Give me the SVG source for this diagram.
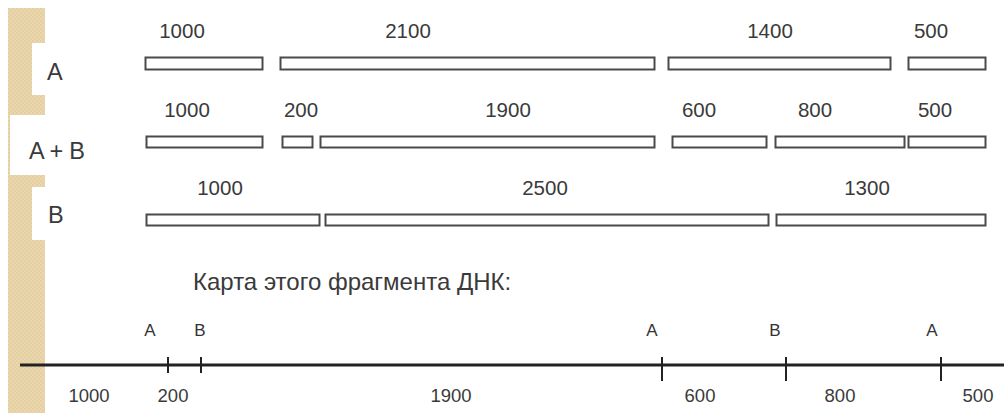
<svg xmlns="http://www.w3.org/2000/svg" width="1004" height="413" viewBox="0 0 1004 413">
<defs>
<pattern id="tex" width="4" height="4" patternUnits="userSpaceOnUse">
<rect width="4" height="4" fill="#ebd7ae"/>
<rect x="0" y="0" width="2" height="2" fill="#e4cfa3"/>
<rect x="2" y="2" width="2" height="2" fill="#e4cfa3"/>
</pattern>
</defs>
<style>
.seg{fill:#fff;stroke:#4a4a4a;stroke-width:2;}
.lbl{font-family:"Liberation Sans",Arial,sans-serif;font-size:20.5px;fill:#3a3a3a;text-anchor:middle;}
.row{font-family:"Liberation Sans",Arial,sans-serif;font-size:23.5px;fill:#3a3a3a;}
.mk{font-family:"Liberation Sans",Arial,sans-serif;font-size:17px;fill:#333;text-anchor:middle;}
.num{font-family:"Liberation Sans",Arial,sans-serif;font-size:18.5px;fill:#3a3a3a;text-anchor:middle;}
.tick{stroke:#222;stroke-width:2;}
</style>
<rect width="1004" height="413" fill="#fff"/>
<g id="strip">
<rect x="8" y="8" width="37" height="405" fill="url(#tex)"/>
<rect x="32" y="43" width="14" height="52" fill="#fff"/>
<rect x="10" y="115" width="36" height="60" fill="#fff"/>
<rect x="32" y="187" width="14" height="53" fill="#fff"/>
</g>
<g id="row-A">
<text class="row" x="47" y="80">A</text>
<rect class="seg" x="145.5" y="57.5" width="117" height="12"/>
<rect class="seg" x="280.5" y="57.5" width="374" height="12"/>
<rect class="seg" x="668.5" y="57.5" width="222" height="12"/>
<rect class="seg" x="908.5" y="57.5" width="77" height="12"/>
<text class="lbl" x="182" y="38">1000</text>
<text class="lbl" x="408" y="38">2100</text>
<text class="lbl" x="770" y="38">1400</text>
<text class="lbl" x="931" y="38">500</text>
</g>
<g id="row-AB">
<text class="row" x="29" y="159" textLength="56">A + B</text>
<rect class="seg" x="146.5" y="136.5" width="116" height="11"/>
<rect class="seg" x="282.5" y="136.5" width="30" height="11"/>
<rect class="seg" x="320.5" y="136.5" width="334" height="11"/>
<rect class="seg" x="672.5" y="136.5" width="94" height="11"/>
<rect class="seg" x="775.5" y="136.5" width="129" height="11"/>
<rect class="seg" x="908.5" y="136.5" width="77" height="11"/>
<text class="lbl" x="187" y="117">1000</text>
<text class="lbl" x="301" y="117">200</text>
<text class="lbl" x="508" y="117">1900</text>
<text class="lbl" x="699" y="117">600</text>
<text class="lbl" x="815" y="117">800</text>
<text class="lbl" x="935" y="117">500</text>
</g>
<g id="row-B">
<text class="row" x="48" y="223">B</text>
<rect class="seg" x="146.5" y="214.5" width="173" height="11"/>
<rect class="seg" x="325.5" y="214.5" width="443" height="11"/>
<rect class="seg" x="776.5" y="214.5" width="209" height="11"/>
<text class="lbl" x="220" y="195">1000</text>
<text class="lbl" x="545" y="195">2500</text>
<text class="lbl" x="867" y="195">1300</text>
</g>
<g id="map">
<text class="row" x="193" y="290" font-size="24" style="font-size:24px">Карта этого фрагмента ДНК:</text>
<text class="mk" x="150" y="336">A</text>
<text class="mk" x="200" y="336">B</text>
<text class="mk" x="652" y="336">A</text>
<text class="mk" x="775" y="336">B</text>
<text class="mk" x="932" y="336">A</text>
<text class="num" x="89" y="402">1000</text>
<text class="num" x="173" y="402">200</text>
<text class="num" x="451" y="402">1900</text>
<text class="num" x="700" y="402">600</text>
<text class="num" x="840" y="402">800</text>
<text class="num" x="978" y="402">500</text>
</g>
<g id="connectors">
<line x1="20" y1="365" x2="1004" y2="365" stroke="#222" stroke-width="3"/>
<line class="tick" x1="168" y1="357" x2="168" y2="373"/>
<line class="tick" x1="201" y1="357" x2="201" y2="373"/>
<line class="tick" x1="662" y1="357" x2="662" y2="381"/>
<line class="tick" x1="786" y1="357" x2="786" y2="381"/>
<line class="tick" x1="941" y1="357" x2="941" y2="381"/>
</g>
</svg>
